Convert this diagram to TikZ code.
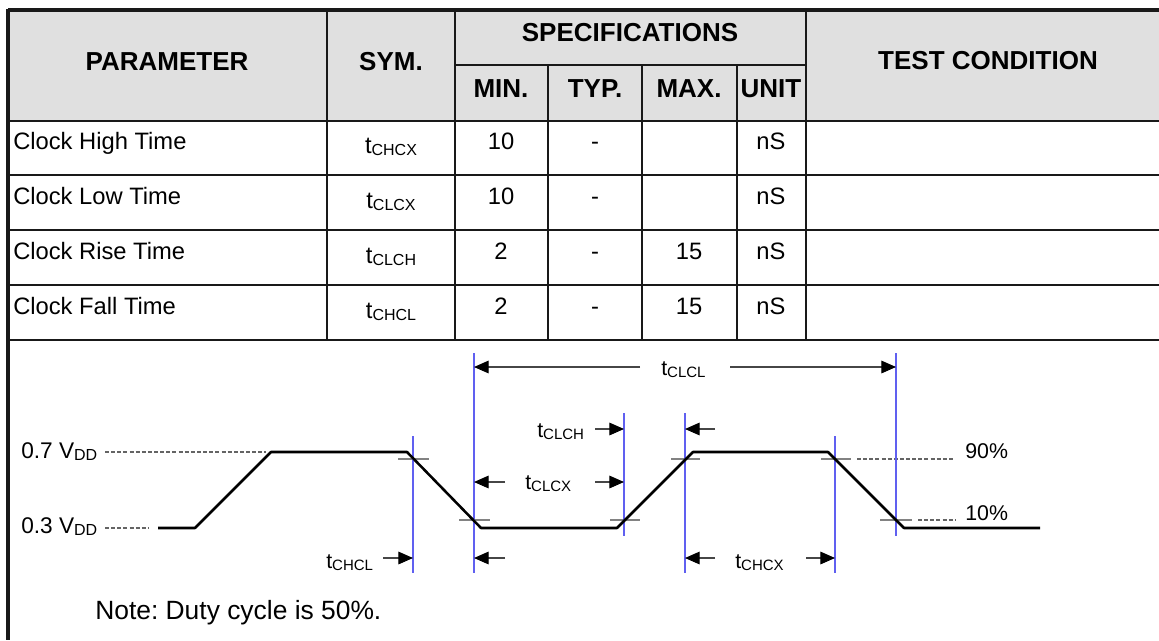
\documentclass[tikz,border=0pt]{standalone}
\usepackage{fontspec}
\usepackage{graphicx}
\setmainfont{Liberation Sans}
\usetikzlibrary{arrows.meta}
\frenchspacing
\definecolor{hdrfill}{RGB}{224,224,224}
\definecolor{rulec}{RGB}{25,25,25}
\definecolor{markc}{RGB}{96,96,240}
\definecolor{tickc}{RGB}{130,130,130}
\definecolor{dashc}{RGB}{100,100,100}
\definecolor{dimc}{RGB}{70,70,70}
\newcommand\tsym[1]{t\raisebox{-1.5pt}{\fontsize{12}{12}\selectfont #1}}
\newcommand\dsym[1]{t\raisebox{-1.5pt}{\fontsize{11.25}{11.25}\selectfont #1}}
\newcommand\vddsub{V\raisebox{-1.5pt}{\fontsize{12}{12}\selectfont DD}}
\tikzset{
  hdtext/.style={font=\fontsize{19.5}{22}\selectfont\bfseries, inner sep=0pt, anchor=base},
  celltext/.style={font=\fontsize{17.8}{20}\selectfont, inner sep=0pt, anchor=base},
  rowtext/.style={font=\fontsize{17.8}{20}\selectfont, inner sep=0pt, anchor=base west},
  lbltext/.style={font=\fontsize{16}{18}\selectfont, inner sep=0pt, anchor=base west},
  vlbltext/.style={font=\fontsize{17}{19}\selectfont, inner sep=0pt, anchor=base west},
  tablerule/.style={draw=rulec, line width=1.5pt},
  outerrule/.style={draw=rulec, line width=2.4pt},
  wavepath/.style={draw=black, line width=1.9pt, line join=round},
  bluemark/.style={draw=markc, line width=1pt},
  levtick/.style={draw=tickc, line width=1.2pt},
  leveldash/.style={draw=dashc, line width=0.8pt, dash pattern=on 3pt off 1.6pt},
  dimarrow/.style={draw=dimc, line width=0.8pt, -{Triangle[length=11pt,width=9.5pt,color=black]}}
}
\begin{document}
\begin{tikzpicture}[x=0.75pt,y=-0.75pt]
\useasboundingbox (0,0) rectangle (1159,640);
\fill[white] (0,0) rectangle (1159,640);
% ---------------- table ----------------
\fill[hdrfill] (8,10) rectangle (1159,121);
\foreach \yy in {121,175,230,285,340} {\draw[tablerule] (8,\yy) -- (1159,\yy);}
\draw[tablerule] (455,65) -- (806,65);
\foreach \xx in {327,455,806} {\draw[tablerule] (\xx,10) -- (\xx,340);}
\foreach \xx in {548,642,737} {\draw[tablerule] (\xx,65) -- (\xx,340);}
\draw[outerrule] (8,10) -- (1159,10);
\draw[outerrule] (8,9) -- (8,640);

\node[hdtext] (hPar) at (167,70) {PARAMETER};
\node[hdtext] (hSym) at (391,70) {SYM.};
\node[hdtext] (hSpec) at (630,41) {SPECIFICATIONS};
\node[hdtext] (hMin) at (501,97) {MIN.};
\node[hdtext] (hTyp) at (595,97) {TYP.};
\node[hdtext] (hMax) at (689,97) {MAX.};
\node[hdtext] (hUnit) at (771,97) {UNIT};
\node[hdtext] (hTest) at (988,69) {TEST CONDITION};

\node[rowtext] (p1) at (13,149) {Clock High Time};
\node[rowtext] (p2) at (13,204) {Clock Low Time};
\node[rowtext] (p3) at (13,259) {Clock Rise Time};
\node[rowtext] (p4) at (13,314) {Clock Fall Time};

\node[celltext] (s1) at (391,153) {\tsym{CHCX}};
\node[celltext] (s2) at (391,208) {\tsym{CLCX}};
\node[celltext] (s3) at (391,263) {\tsym{CLCH}};
\node[celltext] (s4) at (391,318) {\tsym{CHCL}};

\node[celltext] (mn1) at (501,149) {10};
\node[celltext] (mn2) at (501,204) {10};
\node[celltext] (mn3) at (501,259) {2};
\node[celltext] (mn4) at (501,314) {2};
\node[celltext] (ty1) at (595,149) {-};
\node[celltext] (ty2) at (595,204) {-};
\node[celltext] (ty3) at (595,259) {-};
\node[celltext] (ty4) at (595,314) {-};
\node[celltext] (mx3) at (689,259) {15};
\node[celltext] (mx4) at (689,314) {15};
\node[celltext] (u1) at (771,149) {nS};
\node[celltext] (u2) at (771,204) {nS};
\node[celltext] (u3) at (771,259) {nS};
\node[celltext] (u4) at (771,314) {nS};

% ---------------- timing diagram ----------------
% level labels and dashed level lines
\node[vlbltext] (v7) at (21,458) {0.7 \vddsub};
\node[vlbltext] (v3) at (21,533) {0.3 \vddsub};
\coordinate (d7a) at (105,452); \coordinate (d7b) at (266,452);
\coordinate (d3a) at (105,528); \coordinate (d3b) at (148,528);
\draw[leveldash] (d7a) -- (d7b);
\draw[leveldash] (d3a) -- (d3b);

\node[lbltext] (p90) at (965,458) {90\%};
\node[lbltext] (p10) at (965,520) {10\%};
\coordinate (d90a) at (857,459); \coordinate (d90b) at (955,459);
\coordinate (d10a) at (918,520); \coordinate (d10b) at (955,520);
\draw[leveldash] (d90a) -- (d90b);
\draw[leveldash] (d10a) -- (d10b);

% gray level ticks
\draw[levtick] (398,459) -- (429,459);
\draw[levtick] (459,520) -- (490,520);
\draw[levtick] (610,520) -- (640,520);
\draw[levtick] (671,459) -- (700,459);
\draw[levtick] (821,459) -- (851,459);
\draw[levtick] (880,520) -- (912,520);

% blue marker lines
\coordinate (b1t) at (413,436); \coordinate (b1b) at (413,573);
\coordinate (b2t) at (474,353); \coordinate (b2b) at (474,573);
\coordinate (b3t) at (624,413); \coordinate (b3b) at (624,536);
\coordinate (b4t) at (685,413); \coordinate (b4b) at (685,573);
\coordinate (b5t) at (835,436); \coordinate (b5b) at (835,573);
\coordinate (b6t) at (896,353); \coordinate (b6b) at (896,536);
\draw[bluemark] (b1t) -- (b1b);
\draw[bluemark] (b2t) -- (b2b);
\draw[bluemark] (b3t) -- (b3b);
\draw[bluemark] (b4t) -- (b4b);
\draw[bluemark] (b5t) -- (b5b);
\draw[bluemark] (b6t) -- (b6b);

% waveform
\draw[wavepath] (158,528) -- (195,528) -- (271,452) -- (407,452) -- (481,528)
  -- (617,528) -- (693,452) -- (828,452) -- (904,528) -- (1040,528);

% timing labels
\node[lbltext] (lCLCL) at (661,375) {\dsym{CLCL}};
\node[lbltext] (lCLCH) at (537,437) {\dsym{CLCH}};
\node[lbltext] (lCLCX) at (525,489) {\dsym{CLCX}};
\node[lbltext] (lCHCL) at (326,568) {\dsym{CHCL}};
\node[lbltext] (lCHCX) at (735,568) {\dsym{CHCX}};

% dimension arrows
\coordinate (aL1s) at (640,367); \coordinate (aL1e) at (474,367);
\coordinate (aL2s) at (730,367); \coordinate (aL2e) at (896,367);
\draw[dimarrow] (aL1s) -- (aL1e);
\draw[dimarrow] (aL2s) -- (aL2e);

\coordinate (aCHs) at (595,429); \coordinate (aCHe) at (624,429);
\draw[dimarrow] (aCHs) -- (aCHe);
\coordinate (aHRs) at (715,429); \coordinate (aHRe) at (685,429);
\draw[dimarrow] (aHRs) -- (aHRe);

\coordinate (aCX1s) at (505,482); \coordinate (aCX1e) at (474,482);
\coordinate (aCX2s) at (595,482); \coordinate (aCX2e) at (624,482);
\draw[dimarrow] (aCX1s) -- (aCX1e);
\draw[dimarrow] (aCX2s) -- (aCX2e);

\coordinate (aHLs) at (383,558); \coordinate (aHLe) at (413,558);
\draw[dimarrow] (aHLs) -- (aHLe);
\coordinate (aLBs) at (505,558); \coordinate (aLBe) at (474,558);
\draw[dimarrow] (aLBs) -- (aLBe);

\coordinate (aHX1s) at (715,558); \coordinate (aHX1e) at (685,558);
\coordinate (aHX2s) at (806,558); \coordinate (aHX2e) at (835,558);
\draw[dimarrow] (aHX1s) -- (aHX1e);
\draw[dimarrow] (aHX2s) -- (aHX2e);

% note
\node[font=\fontsize{19.8}{22}\selectfont, inner sep=0pt, anchor=base west] (note) at (95,619) {Note: Duty cycle is 50\%.};
\end{tikzpicture}
\end{document}
